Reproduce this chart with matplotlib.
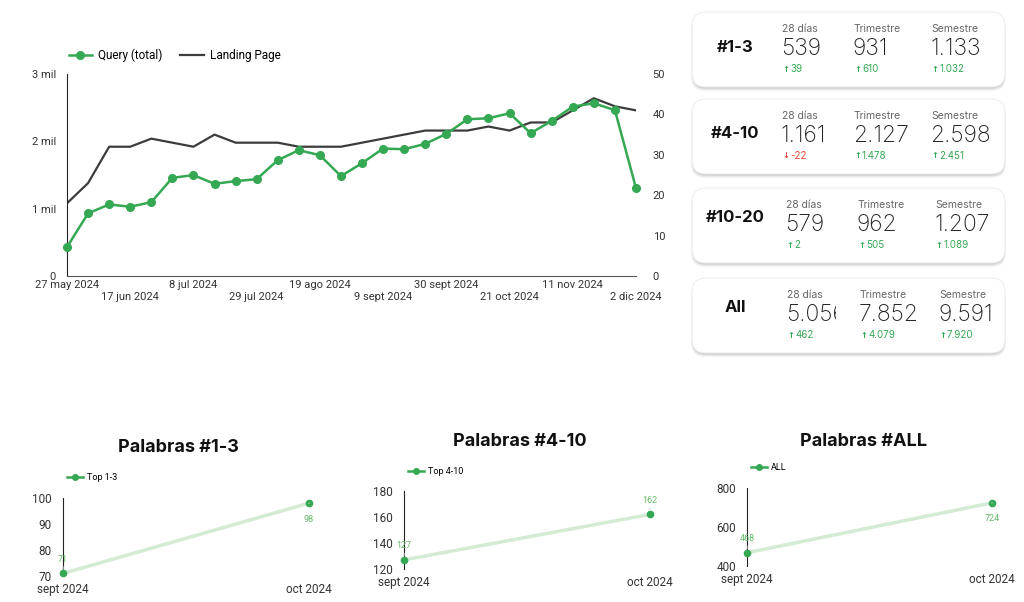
import matplotlib
matplotlib.use('Agg')
import matplotlib.pyplot as plt
from matplotlib.patches import FancyBboxPatch, Rectangle
from matplotlib.lines import Line2D
import numpy as np

# ---------------- data ----------------
weeks_n = 28
query_total = [430, 930, 1063, 1028, 1097, 1458, 1498, 1369, 1409, 1438,
               1720, 1869, 1794, 1483, 1676, 1893, 1883, 1962, 2111, 2328,
               2343, 2417, 2121, 2303, 2516, 2566, 2462, 1305]
landing_page = [18, 23, 32, 32, 34, 33, 32, 35, 33, 33,
                33, 32, 32, 32, 33, 34, 35, 36, 36, 36,
                37, 36, 38, 38, 41, 44, 42, 41]
main_tick_idx = [0, 3, 6, 9, 12, 15, 18, 21, 24, 27]
main_tick_labels = ["27 may 2024", "17 jun 2024", "8 jul 2024", "29 jul 2024",
                    "19 ago 2024", "9 sept 2024", "30 sept 2024", "21 oct 2024",
                    "11 nov 2024", "2 dic 2024"]
left_ticks = [0, 1000, 2000, 3000]
left_tick_labels = ["0", "1 mil", "2 mil", "3 mil"]
right_ticks = [0, 10, 20, 30, 40, 50]

card_labels = ["#1-3", "#4-10", "#10-20", "All"]
period_names = ["28 días", "Trimestre", "Semestre"]
vals_28 = [539, 1161, 579, 5056]
vals_tri = [931, 2127, 962, 7852]
vals_sem = [1133, 2598, 1207, 9591]
delta_28 = [39, -22, 2, 462]
delta_tri = [610, 1478, 505, 4079]
delta_sem = [1032, 2451, 1089, 7920]

small_months = ["sept 2024", "oct 2024"]
small_titles = ["Palabras #1-3", "Palabras #4-10", "Palabras #ALL"]
small_series_names = ["Top 1-3", "Top 4-10", "ALL"]
top13 = [71, 98]
top410 = [127, 162]
top_all = [468, 724]
small_yticks = [[70, 80, 90, 100], [120, 140, 160, 180], [400, 600, 800]]

# ---------------- style ----------------
GREEN = '#34a853'
LIGHT_GREEN = '#d3ebd3'
LABEL_GREEN = '#66bb6a'
RED = '#ea4335'
DARK = '#333333'
W, H = 1024, 602
CHART_FONT = ['Roboto', 'DejaVu Sans']
CARD_FONT = ['Inter', 'DejaVu Sans']

plt.rcParams['font.family'] = CHART_FONT

fig = plt.figure(figsize=(W / 100, H / 100), dpi=100)


def rect(l, t, r, b):
    return [l / W, 1 - b / H, (r - l) / W, (b - t) / H]


# overlay axes in pixel coordinates
ov = fig.add_axes([0, 0, 1, 1])
ov.set_xlim(0, W)
ov.set_ylim(H, 0)
ov.axis('off')

# ---------------- main chart ----------------
ax = fig.add_axes(rect(67, 74, 636, 276))
ax2 = ax.twinx()
x = np.arange(weeks_n)
l1, = ax.plot(x, query_total, color=GREEN, lw=1.8, marker='o', ms=5.5,
              label='Query (total)', zorder=3, clip_on=False)
l2, = ax2.plot(x, landing_page, color='#3c3c3c', lw=1.6, label='Landing Page')
ax.set_zorder(ax2.get_zorder() + 1)
ax.patch.set_visible(False)

ax.set_xlim(0, weeks_n - 1)
ax.set_ylim(0, 3000)
ax2.set_ylim(0, 50)
ax.set_yticks(left_ticks)
ax.set_yticklabels(left_tick_labels)
ax2.set_yticks(right_ticks)
ax.set_xticks(main_tick_idx)
ax.set_xticklabels([lab if i % 2 == 0 else '\n' + lab
                    for i, lab in enumerate(main_tick_labels)])
for a in (ax, ax2):
    for s in a.spines.values():
        s.set_visible(False)
ax.spines['left'].set_visible(True)
ax.spines['left'].set_color('#222222')
ax.spines['bottom'].set_visible(True)
ax.spines['bottom'].set_color('#555555')
ax.tick_params(axis='both', length=0, labelsize=8, labelcolor=DARK)
ax.tick_params(axis='y', pad=8)
ax.tick_params(axis='x', pad=3)
ax2.tick_params(axis='y', length=0, labelsize=8, labelcolor=DARK, pad=12)

fig.legend(handles=[l1, l2], loc='center left',
           bbox_to_anchor=(58 / W, 1 - 55 / H), ncol=2, frameon=False,
           fontsize=8.5, handlelength=2.0, columnspacing=1.5, handletextpad=0.5)

# ---------------- KPI cards ----------------
card_tops = [12, 99, 188, 278]
card_h = 75
card_l, card_r = 692, 1005
label_dy = [35, 35, 30, 30]
col_x = [[782, 854, 931], [782, 854, 931], [786, 858, 935], [787, 860, 939]]


def fmt(v):
    return f"{abs(v):,}".replace(',', '.')


for i, top in enumerate(card_tops):
    # shadow
    for k, al in enumerate([0.04, 0.05, 0.07, 0.09]):
        off = 4 - k
        sh = FancyBboxPatch((card_l - off * 0.5 + 1, top + off),
                            card_r - card_l + off - 2, card_h,
                            boxstyle="round,pad=0,rounding_size=14",
                            fc='#000000', ec='none', alpha=al, zorder=1)
        ov.add_patch(sh)
    card = FancyBboxPatch((card_l, top), card_r - card_l, card_h,
                          boxstyle="round,pad=0,rounding_size=14",
                          fc='white', ec='#eeeeee', lw=0.8, zorder=2)
    ov.add_patch(card)
    ov.text(735, top + label_dy[i], card_labels[i], ha='center', va='center',
            fontsize=12, fontweight='bold', color='#111111',
            family=CARD_FONT, zorder=3)
    for j, (vals, dels) in enumerate([(vals_28, delta_28), (vals_tri, delta_tri),
                                       (vals_sem, delta_sem)]):
        cx = col_x[i][j]
        ov.text(cx, top + 17, period_names[j], ha='left', va='center',
                fontsize=7.5, color='#666666', family=CARD_FONT, zorder=3)
        t = ov.text(cx - 1, top + 37, fmt(vals[i]), ha='left', va='center',
                    fontsize=16.5, color='#222222', family=CARD_FONT,
                    fontweight='light', zorder=3)
        if j == 0 and i == 3:
            clip = Rectangle((cx - 3, top), 52, card_h, transform=ov.transData)
            t.set_clip_path(clip)
            t.set_clip_on(True)
        d = dels[i]
        col = GREEN if d >= 0 else RED
        arrow = '↑' if d >= 0 else '↓'
        ov.text(cx + 0.5, top + 57, arrow, ha='left', va='center', fontsize=6,
                fontweight='bold', color=col, family=['DejaVu Sans'], zorder=3)
        ov.text(cx + 8, top + 57, ('-' if d < 0 else '') + fmt(d), ha='left',
                va='center', fontsize=7, color=col, family=CARD_FONT, zorder=3)

# ---------------- small charts ----------------
small_data = [top13, top410, top_all]
small_boxes = [(63, 309, 498, 576), (404, 650, 491, 569), (747, 992, 488, 566)]
title_pos = [(178, 447), (520, 441), (863, 441)]
legend_pos = [(59, 478), (400, 472), (743, 468)]
label_place = [('above', 'below'), ('above', 'above'), ('above', 'below')]

for k in range(3):
    l, r, t, b = small_boxes[k]
    sa = fig.add_axes(rect(l, t, r, b))
    yt = small_yticks[k]
    sa.set_ylim(yt[0], yt[-1])
    sa.set_xlim(0, 1)
    sa.patch.set_visible(False)
    xs = np.arange(len(small_months))
    sa.plot(xs, small_data[k], color=LIGHT_GREEN, lw=2.5, zorder=2,
            solid_capstyle='round')
    sa.plot(xs, small_data[k], ls='none', marker='o', ms=4.5, color=GREEN,
            zorder=3, clip_on=False)
    sa.set_yticks(yt)
    sa.set_xticks(xs)
    sa.set_xticklabels(small_months)
    for s in sa.spines.values():
        s.set_visible(False)
    sa.spines['left'].set_visible(True)
    sa.spines['left'].set_color('#222222')
    sa.tick_params(length=0, labelsize=8.5, labelcolor=DARK)
    sa.tick_params(axis='y', pad=8)
    sa.tick_params(axis='x', pad=5)
    for xi, v, pl in zip(xs, small_data[k], label_place[k]):
        dy = 14 if pl == 'above' else -16
        sa.annotate(str(v), (xi, v), xytext=(0, dy), textcoords='offset pixels',
                    ha='center', va='center', fontsize=6.5, color=LABEL_GREEN,
                    arrowprops=dict(arrowstyle='-', color='#dddddd', lw=0.8,
                                    shrinkA=6, shrinkB=3),
                    annotation_clip=False)
    h = Line2D([], [], color=GREEN, lw=1.8, marker='o', ms=4)
    lx, ly = legend_pos[k]
    fig.legend(handles=[h], labels=[small_series_names[k]], loc='center left',
               bbox_to_anchor=(lx / W, 1 - ly / H), frameon=False, fontsize=6.5,
               handlelength=1.8, handletextpad=0.4)
    tx, ty = title_pos[k]
    ov.text(tx, ty, small_titles[k], ha='center', va='center', fontsize=13,
            fontweight='bold', color='#111111', family=CARD_FONT)

fig.savefig('out.png', dpi=100)
